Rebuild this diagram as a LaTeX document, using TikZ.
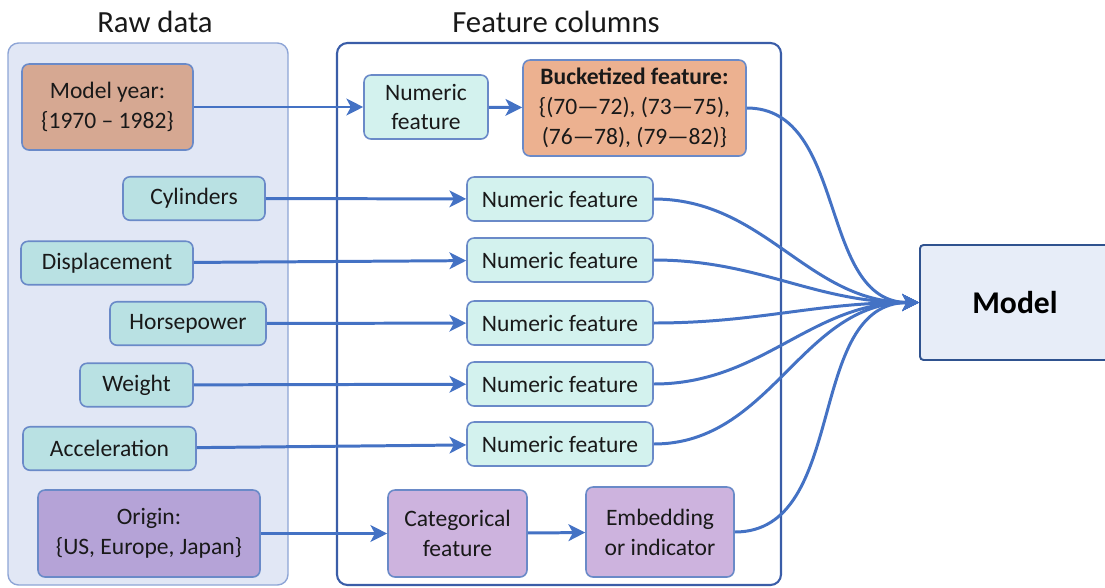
\documentclass[tikz,border=0pt]{standalone}
\usepackage{fontspec}
\setmainfont{Carlito}
\usepackage{xcolor}
\definecolor{linkblue}{HTML}{4472C4}
\definecolor{edgeblue}{HTML}{6A8AC8}
\definecolor{panelblue}{HTML}{E1E7F5}
\definecolor{paneledge}{HTML}{8EA5D6}
\definecolor{darkblue}{HTML}{3A5DA8}
\definecolor{yearbrown}{HTML}{D6A892}
\definecolor{bucketorange}{HTML}{ECB190}
\definecolor{rawteal}{HTML}{B9E1E3}
\definecolor{featteal}{HTML}{D3F2EE}
\definecolor{originpurple}{HTML}{B5A3D7}
\definecolor{featpurple}{HTML}{CDB3DE}
\definecolor{modelfill}{HTML}{E7EDF8}
\definecolor{modeledge}{HTML}{2F528F}
\usepackage{tikz}
\usetikzlibrary{arrows.meta, positioning}
\tikzset{
  panel/.style={
    rectangle, rounded corners=6pt, inner sep=0pt
  },
  paneltitle/.style={
    inner sep=0pt, text=black!90,
    font=\fontsize{17.5}{21}\selectfont
  },
  box/.style={
    rectangle, rounded corners=4pt, draw=edgeblue, line width=0.9pt,
    inner sep=0pt, align=center, text=black!90,
    font=\fontsize{13.4}{17}\selectfont
  },
  rawbox/.style={box, fill=rawteal, minimum height=0.87cm},
  numeric/.style={box, fill=featteal, minimum height=0.88cm, minimum width=3.72cm},
  modelbox/.style={
    rectangle, rounded corners=2pt, draw=modeledge, fill=modelfill,
    line width=1.1pt, inner sep=0pt, text=black,
    font=\fontsize{18}{22}\selectfont\bfseries
  },
  arrow/.style={line width=1.7pt, color=linkblue, -{Stealth[length=9.5pt, width=9.5pt, inset=2.5pt]}},
}

\begin{document}
\begin{tikzpicture}
  \useasboundingbox (0,0) rectangle (22.1,-11.74);
  \clip (0,0) rectangle (22.1,-11.74);

  % panels
  \node (rawpanel)  [panel, fill=panelblue, draw=paneledge, line width=0.8pt,
                     minimum width=5.60cm, minimum height=10.84cm] at (2.96,-6.28) {};
  \node (featpanel) [panel, draw=darkblue, line width=1.2pt,
                     minimum width=8.88cm, minimum height=10.84cm] at (11.18,-6.28) {};
  \node (rawtitle)  [paneltitle] at (3.10,-0.44)  {Raw data};
  \node (feattitle) [paneltitle] at (11.12,-0.44) {Feature columns};

  % raw data
  \node (myear)  [box, fill=yearbrown, minimum width=3.42cm, minimum height=1.72cm] at (2.15,-2.14)
                 {Model year:\\\{1970 – 1982\}};
  \node (cyl)    [rawbox, minimum width=2.84cm] at (3.88,-3.97)  {Cylinders};
  \node (disp)   [rawbox, minimum width=3.44cm] at (2.14,-5.26)  {Displacement};
  \node (hp)     [rawbox, minimum width=3.12cm] at (3.76,-6.47)  {Horsepower};
  \node (weight) [rawbox, minimum width=2.26cm] at (2.73,-7.70)  {Weight};
  \node (accel)  [rawbox, minimum width=3.46cm] at (2.19,-8.97)  {Acceleration};
  \node (origin) [box, fill=originpurple, minimum width=4.44cm, minimum height=1.74cm] at (2.98,-10.67)
                 {Origin:\\\{US, Europe, Japan\}};

  % feature columns
  \node (num0)   [box, fill=featteal, minimum width=2.48cm, minimum height=1.28cm] at (8.52,-2.14)
                 {Numeric\\feature};
  \node (bucket) [box, fill=bucketorange, minimum width=4.46cm, minimum height=1.92cm] at (12.69,-2.16)
                 {\textbf{Bucketized feature:}\\\{(70—72), (73—75),\\(76—78), (79—82)\}};
  \node (num1)   [numeric] at (11.20,-3.98) {Numeric feature};
  \node (num2)   [numeric] at (11.20,-5.20) {Numeric feature};
  \node (num3)   [numeric] at (11.20,-6.46) {Numeric feature};
  \node (num4)   [numeric] at (11.20,-7.68) {Numeric feature};
  \node (num5)   [numeric] at (11.20,-8.88) {Numeric feature};
  \node (cat)    [box, fill=featpurple, minimum width=2.78cm, minimum height=1.74cm] at (9.15,-10.67)
                 {Categorical\\feature};
  \node (embed)  [box, fill=featpurple, minimum width=2.96cm, minimum height=1.80cm] at (13.20,-10.64)
                 {Embedding\\or indicator};

  \node (model)  [modelbox, minimum width=3.80cm, minimum height=2.30cm] at (20.30,-6.05) {Model};

  % raw -> features
  \draw [arrow] (myear)  -- (num0);
  \draw [arrow] (num0)   -- (bucket);
  \draw [arrow] (cyl)    -- (num1);
  \draw [arrow] (disp)   -- (num2);
  \draw [arrow] (hp)     -- (num3);
  \draw [arrow] (weight) -- (num4);
  \draw [arrow] (accel)  -- (num5);
  \draw [arrow] (origin) -- (cat);
  \draw [arrow] (cat)    -- (embed);

  % features -> model
  \foreach \src in {bucket, num1, num2, num3, num4, num5, embed}
    \draw [arrow] (\src.east) to[out=0, in=180] (model.west);
\end{tikzpicture}
\end{document}
